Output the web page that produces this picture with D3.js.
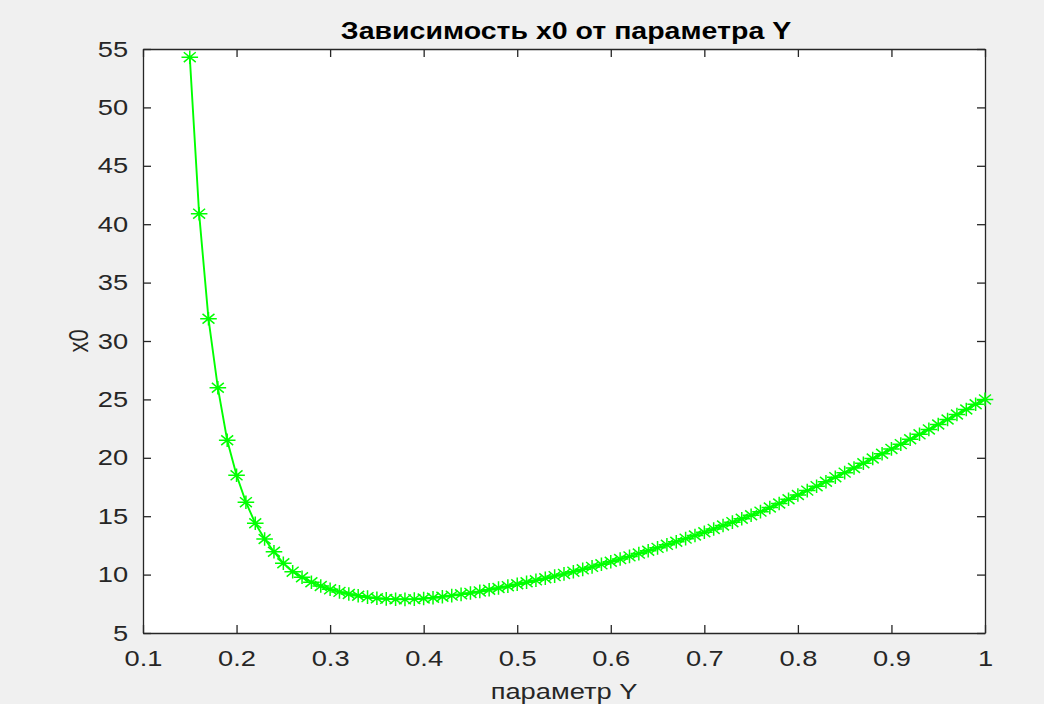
<!DOCTYPE html>
<html>
<head>
<meta charset="utf-8">
<script src="https://cdn.jsdelivr.net/npm/d3@7"></script>
<style>
  html, body { margin: 0; padding: 0; background: #f0f0f0; }
  svg { display: block; }
  text { font-family: "Liberation Sans", Arial, Helvetica, sans-serif; }
</style>
</head>
<body>
<svg id="chart" width="1044" height="704"></svg>
<script>
// ---- data ----
const paramY = [
  0.15, 0.16, 0.17, 0.18, 0.19, 0.20, 0.21, 0.22, 0.23, 0.24,
  0.25, 0.26, 0.27, 0.28, 0.29, 0.30, 0.31, 0.32, 0.33, 0.34,
  0.35, 0.36, 0.37, 0.38, 0.39, 0.40, 0.41, 0.42, 0.43, 0.44,
  0.45, 0.46, 0.47, 0.48, 0.49, 0.50, 0.51, 0.52, 0.53, 0.54,
  0.55, 0.56, 0.57, 0.58, 0.59, 0.60, 0.61, 0.62, 0.63, 0.64,
  0.65, 0.66, 0.67, 0.68, 0.69, 0.70, 0.71, 0.72, 0.73, 0.74,
  0.75, 0.76, 0.77, 0.78, 0.79, 0.80, 0.81, 0.82, 0.83, 0.84,
  0.85, 0.86, 0.87, 0.88, 0.89, 0.90, 0.91, 0.92, 0.93, 0.94,
  0.95, 0.96, 0.97, 0.98, 0.99, 1.00
];
const x0Values = [
  54.3, 40.9, 31.9, 26.0, 21.5, 18.5, 16.2, 14.4, 13.05, 11.96,
  10.97, 10.25, 9.77, 9.35, 9.02, 8.74, 8.52, 8.34, 8.19, 8.07,
  7.98, 7.92, 7.89, 7.88, 7.90, 7.95, 8.02, 8.10, 8.20, 8.31,
  8.43, 8.56, 8.70, 8.85, 9.01, 9.17, 9.34, 9.51, 9.69, 9.87,
  10.06, 10.25, 10.45, 10.66, 10.88, 11.10, 11.33, 11.56, 11.80, 12.04,
  12.29, 12.55, 12.81, 13.08, 13.35, 13.63, 13.91, 14.20, 14.49, 14.78,
  15.08, 15.39, 15.74, 16.09, 16.45, 16.82, 17.19, 17.57, 17.95, 18.34,
  18.73, 19.13, 19.53, 19.94, 20.35, 20.76, 21.17, 21.59, 22.01, 22.43,
  22.85, 23.28, 23.71, 24.14, 24.58, 25.00
];
const xTicks = [0.1, 0.2, 0.3, 0.4, 0.5, 0.6, 0.7, 0.8, 0.9, 1];
const xTickLabels = ["0.1", "0.2", "0.3", "0.4", "0.5", "0.6", "0.7", "0.8", "0.9", "1"];
const yTicks = [5, 10, 15, 20, 25, 30, 35, 40, 45, 50, 55];
const yTickLabels = ["5", "10", "15", "20", "25", "30", "35", "40", "45", "50", "55"];
const titleText = "Зависимость x0 от параметра Y";
const xLabelText = "параметр Y";
const yLabelText = "x0";

// ---- layout ----
const L = 143, R = 985, T = 49, B = 633;
const SX = 1.24; // horizontal stretch of the reference image
const axisColor = "#262626";
const green = "#00ff00";

const svg = d3.select("#chart");
svg.append("rect").attr("width", 1044).attr("height", 704).attr("fill", "#f0f0f0");

const x = d3.scaleLinear().domain([0.1, 1]).range([L, R]);
const y = d3.scaleLinear().domain([5, 55]).range([B, T]);

svg.append("rect")
  .attr("x", L).attr("y", T).attr("width", R - L).attr("height", B - T)
  .attr("fill", "#ffffff");

function styleAxis(g) {
  g.selectAll("path.domain").attr("stroke", axisColor).attr("stroke-width", 1.3);
  g.selectAll(".tick line").attr("stroke", axisColor).attr("stroke-width", 1.3);
}

const tickLen = 8;
const xFmt = d => xTickLabels[xTicks.indexOf(d)];
const yFmt = d => yTickLabels[yTicks.indexOf(d)];

// bottom axis
const gB = svg.append("g").attr("transform", `translate(0,${B})`)
  .call(d3.axisBottom(x).tickValues(xTicks).tickFormat(xFmt)
    .tickSizeInner(-tickLen).tickSizeOuter(0).tickPadding(17));
styleAxis(gB);
gB.selectAll(".tick text")
  .attr("fill", axisColor).attr("font-size", 22)
  .attr("transform", `scale(${SX},1)`);

// top axis
const gT = svg.append("g").attr("transform", `translate(0,${T})`)
  .call(d3.axisTop(x).tickValues(xTicks).tickFormat("")
    .tickSizeInner(-tickLen).tickSizeOuter(0));
styleAxis(gT);

// left axis
const gL = svg.append("g").attr("transform", `translate(${L},0)`)
  .call(d3.axisLeft(y).tickValues(yTicks).tickFormat(yFmt)
    .tickSizeInner(-tickLen).tickSizeOuter(0).tickPadding(12));
styleAxis(gL);
gL.selectAll(".tick text")
  .attr("fill", axisColor).attr("font-size", 22)
  .attr("transform", `scale(${SX},1)`);

// right axis
const gR = svg.append("g").attr("transform", `translate(${R},0)`)
  .call(d3.axisRight(y).tickValues(yTicks).tickFormat("")
    .tickSizeInner(-tickLen).tickSizeOuter(0));
styleAxis(gR);

// data line
const pts = paramY.map((p, i) => [p, x0Values[i]]);
svg.append("path")
  .datum(pts)
  .attr("fill", "none")
  .attr("stroke", green)
  .attr("stroke-width", 1.9)
  .attr("d", d3.line().x(d => x(d[0])).y(d => y(d[1])));

// asterisk markers
const mw = 8.3, mh = 6.8;
const star = `M${-mw},0L${mw},0M0,${-mh}L0,${mh}M${-mw*0.72},${-mh*0.72}L${mw*0.72},${mh*0.72}M${-mw*0.72},${mh*0.72}L${mw*0.72},${-mh*0.72}`;
svg.append("g").selectAll("path")
  .data(pts)
  .join("path")
  .attr("transform", d => `translate(${x(d[0])},${y(d[1])})`)
  .attr("d", star)
  .attr("fill", "none")
  .attr("stroke", green)
  .attr("stroke-width", 1.5);

// title
svg.append("text")
  .attr("transform", `translate(${(L + R) / 2 + 2},39) scale(${SX},1)`)
  .attr("text-anchor", "middle")
  .attr("font-size", 23)
  .attr("font-weight", "bold")
  .attr("fill", "#000")
  .text(titleText);

// x label
svg.append("text")
  .attr("transform", `translate(${(L + R) / 2},699) scale(${SX},1)`)
  .attr("text-anchor", "middle")
  .attr("font-size", 22)
  .attr("fill", axisColor)
  .text(xLabelText);

// y label
svg.append("text")
  .attr("transform", `translate(88,${(T + B) / 2}) rotate(-90) scale(1,${SX})`)
  .attr("text-anchor", "middle")
  .attr("font-size", 22)
  .attr("fill", axisColor)
  .text(yLabelText);
</script>
</body>
</html>
